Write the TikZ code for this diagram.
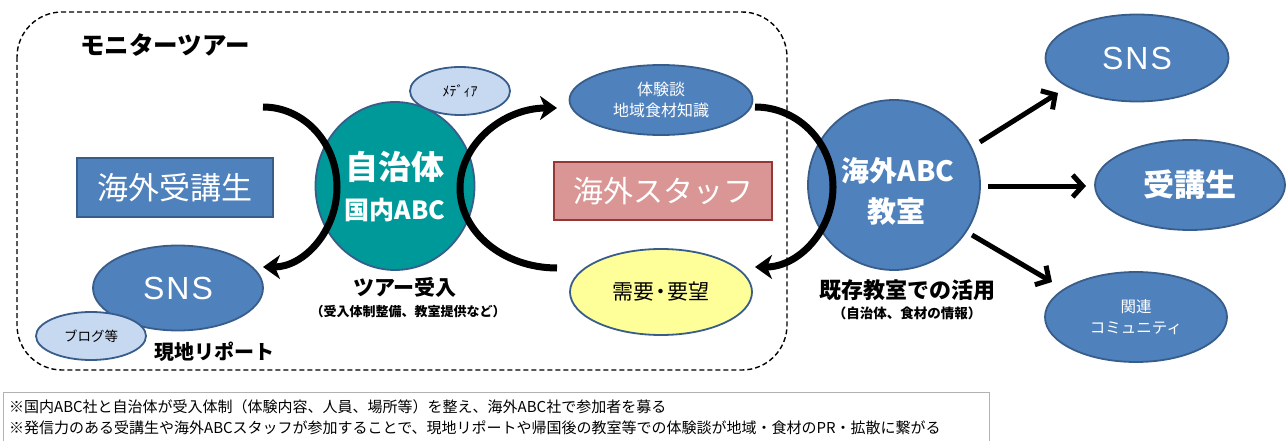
\documentclass[tikz,border=0pt]{standalone}
\usepackage{fontspec}
\setmainfont{Noto Sans CJK JP}
\newfontfamily\arialf{Liberation Sans}
\usetikzlibrary{shapes.geometric,arrows.meta}
\definecolor{blu}{HTML}{4F81BD}
\definecolor{bluedge}{HTML}{385D8A}
\definecolor{tealc}{HTML}{009999}
\definecolor{lblue}{HTML}{C6D9F1}
\definecolor{yel}{HTML}{FFFF99}
\definecolor{pinkc}{HTML}{D99694}
\definecolor{redge}{HTML}{953735}
\tikzset{
  blob/.style={ellipse, draw=bluedge, line width=1.8pt, fill=blu, text=white, inner sep=0pt, align=center},
  smallblob/.style={ellipse, draw=bluedge, line width=1.8pt, fill=lblue, text=black, inner sep=0pt, align=center},
  boxb/.style={rectangle, draw=bluedge, line width=1.8pt, fill=blu, text=white, inner sep=0pt},
  lbl/.style={inner sep=0pt, align=center, text=black},
  bigarc/.style={line width=7pt, -{Stealth[length=17pt,width=24pt,inset=5pt]}},
  strarr/.style={line width=5pt, -{Straight Barb[length=10pt,width=22pt]}},
}
\newcommand{\fs}[1]{\fontsize{#1pt}{\dimexpr #1pt*12/10\relax}\selectfont}
\begin{document}
\begin{tikzpicture}[x=1pt,y=-1pt]
\useasboundingbox (0,0) rectangle (1287,441);
% dashed frame
\draw[line width=1.4pt, dash pattern=on 5pt off 3pt, rounded corners=45pt] (17,12) rectangle (787,370);
\node[lbl, anchor=west] (title) at (80,45) {\bfseries\fs{24.5}モニターツアー};
% left part
\node[boxb, minimum width=196pt, minimum height=59pt] (kaigai) at (175,187.5) {\fs{31}海外受講生};
\node[blob, minimum width=170pt, minimum height=85pt] (sns1) at (178,288) {\arialf\fs{32}S\kern2pt N\kern2pt S};
\node[smallblob, minimum width=110pt, minimum height=48pt] (blog) at (91,336) {\fs{13.5}ブログ等};
\node[lbl] (genchi) at (214,352) {\bfseries\fs{20}現地リポート};
% center circle
\node[ellipse, draw=bluedge, line width=1.8pt, fill=tealc, text=white, inner sep=0pt, align=center,
      minimum width=159pt, minimum height=168pt] (jichi) at (395,186) {};
\node[lbl, text=white] (jichi1) at (395,167) {\bfseries\fs{33}自治体};
\node[lbl, text=white] (jichi2) at (395,210) {\bfseries\fs{25}国内ABC};
\node[smallblob, minimum width=100pt, minimum height=48pt] (media) at (460,91) {\fs{14}ﾒﾃﾞｨｱ};
\node[lbl] (tour) at (405,287) {\bfseries\fs{21}ツアー受入};
\node[lbl] (tour2) at (408,312) {\bfseries\fs{13}（受入体制整備、教室提供など）};
% middle column
\node[blob, minimum width=183pt, minimum height=70pt, font=\fs{16}] (taiken) at (661,100) {体験談\\[2pt]地域食材知識};
\node[rectangle, draw=redge, line width=1.8pt, fill=pinkc, text=white, inner sep=0pt,
      minimum width=218pt, minimum height=58pt] (staff) at (663,191) {\fs{30}海外スタッフ};
\node[blob, fill=yel, text=black, minimum width=182pt, minimum height=86pt] (juyo) at (661,292) {\fs{21}需要\kern-4pt・\kern-4pt要望};
% ABC classroom
\node[blob, minimum width=172pt, minimum height=170pt] (abc) at (894,185) {};
\node[lbl, text=white] (abc1) at (898,171) {\bfseries\fs{28}海外ABC};
\node[lbl, text=white] (abc2) at (896,212) {\bfseries\fs{29}教室};
\node[lbl] (kizon) at (907,290) {\bfseries\fs{22}既存教室での活用};
\node[lbl] (kizon2) at (907,313) {\bfseries\fs{13.5}（自治体、食材の情報）};
% right ellipses
\node[blob, minimum width=183pt, minimum height=87pt] (sns2) at (1137,58) {\arialf\fs{32}S\kern2pt N\kern2pt S};
\node[blob, minimum width=190pt, minimum height=90pt] (jukou) at (1190,185) {\bfseries\fs{31}受講生};
\node[blob, minimum width=182pt, minimum height=90pt, font=\fs{15.5}] (kanren) at (1136,317) {関連\\[3pt]コミュニティ};
% arcs
\coordinate (arcA) at (263,107);
\coordinate (arcB) at (557,268);
\coordinate (arcC) at (755,107);
\draw[bigarc] (arcA) arc[start angle=90, end angle=-90, x radius=74pt, y radius=80pt];
\draw[bigarc] (arcB) arc[start angle=270, end angle=90, x radius=97pt, y radius=80pt];
\draw[bigarc] (arcC) arc[start angle=90, end angle=-90, x radius=78pt, y radius=80pt];
% straight arrows
\coordinate (s1) at (980,142); \coordinate (e1) at (1058,93);
\coordinate (s2) at (988,186); \coordinate (e2) at (1086,186);
\coordinate (s3) at (972,235); \coordinate (e3) at (1052,282);
\draw[strarr] (s1) -- (e1);
\draw[strarr] (s2) -- (e2);
\draw[strarr] (s3) -- (e3);
% bottom note
\draw[black!30, line width=0.8pt] (3,392) rectangle (989,448);
\node[lbl, anchor=west] (note1) at (9,407) {\fs{15}※国内ABC社と自治体が受入体制（体験内容、人員、場所等）を整え、海外ABC社で参加者を募る};
\node[lbl, anchor=west] (note2) at (9,428) {\fs{15}※発信力のある受講生や海外ABCスタッフが参加することで、現地リポートや帰国後の教室等での体験談が地域・食材のPR・拡散に繋がる};
\end{tikzpicture}
\end{document}
